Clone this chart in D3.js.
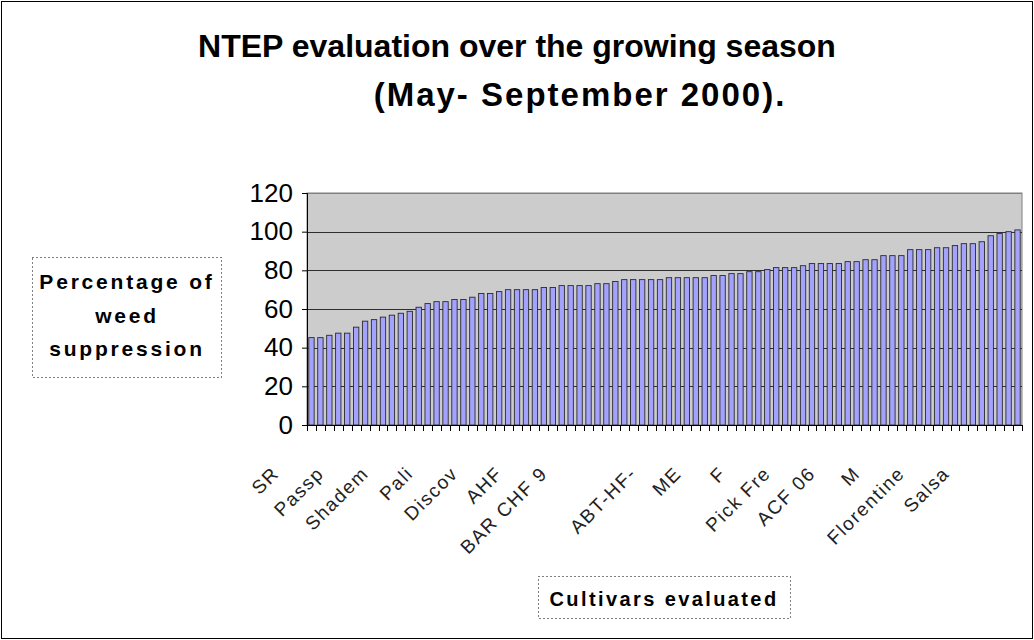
<!DOCTYPE html>
<html>
<head>
<meta charset="utf-8">
<script src="https://cdn.jsdelivr.net/npm/d3@7"></script>
<style>
  html, body { margin: 0; padding: 0; background: #fff; }
  svg { display: block; }
  text { font-family: "Liberation Sans", Arial, sans-serif; }
</style>
</head>
<body>
<svg id="chart" width="1034" height="640"></svg>
<script>
// Weed suppression (%) for each cultivar, sorted ascending
const weedSuppression = [
  45.2, 45.2, 46.4, 47.5, 47.5, 50.6, 53.7, 54.5, 55.8, 56.8,
  57.8, 58.8, 60.9, 62.8, 63.8, 63.8, 64.9, 64.9, 66.1, 68.0,
  68.0, 69.0, 70.0, 70.0, 70.0, 70.0, 71.1, 71.1, 72.1, 72.1,
  72.1, 72.1, 73.1, 73.1, 74.2, 75.2, 75.2, 75.2, 75.2, 75.2,
  76.2, 76.2, 76.2, 76.2, 76.2, 77.3, 77.3, 78.3, 78.3, 79.3,
  79.3, 80.4, 81.4, 81.4, 81.4, 82.4, 83.5, 83.5, 83.5, 83.5,
  84.5, 84.5, 85.5, 85.5, 87.6, 87.6, 87.6, 90.7, 90.7, 90.7,
  91.7, 91.7, 92.8, 93.8, 93.8, 94.8, 97.9, 99.0, 100.0, 100.9
];

// Every fifth cultivar carries a (clipped) name on the category axis
const labelEvery = 5;
const cultivarLabels = [
  "SR", "Passp", "Shadem", "Pali", "Discov", "AHF", "BAR CHF 9", "",
  "ABT-HF-", "ME", "F", "Pick Fre", "ACF 06", "M", "Florentine", "Salsa"
];

const yTicks = [0, 20, 40, 60, 80, 100, 120];

const titleLines = ["NTEP evaluation over the growing season", "(May- September 2000)."];
const yTitleLines = ["Percentage of", "weed", "suppression"];
const xTitle = "Cultivars evaluated";

const svg = d3.select("#chart");
const W = 1034, H = 640;
const plot = { left: 307, right: 1022, top: 193, bottom: 425 };

// outer chart frame
svg.append("rect")
  .attr("x", 1.5).attr("y", 1.5)
  .attr("width", W - 3).attr("height", H - 3)
  .attr("fill", "#fff").attr("stroke", "#000").attr("stroke-width", 1);

// title (two lines)
const titleG = svg.append("g")
  .attr("font-weight", "bold")
  .attr("text-anchor", "middle");
titleG.append("text").attr("x", 517).attr("y", 57)
  .attr("font-size", 32).text(titleLines[0]);
titleG.append("text").attr("x", 580).attr("y", 106)
  .attr("font-size", 33).attr("letter-spacing", 2).text(titleLines[1]);

const idx = d3.range(weedSuppression.length);
const xCat = d3.scaleBand().domain(idx).range([plot.left, plot.right]).padding(0);
const y = d3.scaleLinear().domain([0, 120]).range([plot.bottom, plot.top]);
const barW = xCat.step() * 0.6;

// plot area
svg.append("rect")
  .attr("x", plot.left).attr("y", plot.top)
  .attr("width", plot.right - plot.left).attr("height", plot.bottom - plot.top)
  .attr("fill", "#cccccc").attr("stroke", "#808080").attr("stroke-width", 1);

// horizontal gridlines
svg.append("g").selectAll("line")
  .data(yTicks.filter(t => t > 0))
  .join("line")
  .attr("x1", plot.left).attr("x2", plot.right)
  .attr("y1", d => Math.round(y(d)) + 0.5).attr("y2", d => Math.round(y(d)) + 0.5)
  .attr("stroke", d => d === 120 ? "#808080" : "#2e2e2e").attr("stroke-width", 1);

// bars
svg.append("g").selectAll("rect")
  .data(idx)
  .join("rect")
  .attr("x", i => xCat(i) + (xCat.step() - barW) / 2)
  .attr("y", i => y(weedSuppression[i]))
  .attr("width", barW)
  .attr("height", i => y(0) - y(weedSuppression[i]))
  .attr("fill", "#a3a3ff")
  .attr("stroke", "#2a2a2a")
  .attr("stroke-width", 0.9);

// y axis
const yAxis = d3.axisLeft(y).tickValues(yTicks).tickSize(5).tickPadding(9);
const gy = svg.append("g").attr("transform", `translate(${plot.left},0)`).call(yAxis);
gy.select(".domain").attr("stroke", "#000");
gy.selectAll(".tick line").attr("stroke", "#000");
gy.selectAll(".tick text")
  .attr("font-size", 26)
  .attr("font-family", "Liberation Sans, Arial, sans-serif")
  .attr("fill", "#000");

// x axis: tick marks on category boundaries
const gx = svg.append("g");
gx.append("line")
  .attr("x1", plot.left).attr("x2", plot.right)
  .attr("y1", plot.bottom + 0.5).attr("y2", plot.bottom + 0.5)
  .attr("stroke", "#000");
gx.selectAll("line.tick")
  .data(d3.range(weedSuppression.length + 1))
  .join("line")
  .attr("class", "tick")
  .attr("x1", i => Math.round(plot.left + i * xCat.step()) + 0.5)
  .attr("x2", i => Math.round(plot.left + i * xCat.step()) + 0.5)
  .attr("y1", plot.bottom).attr("y2", plot.bottom + 6)
  .attr("stroke", "#000");

// rotated category labels
gx.selectAll("text")
  .data(cultivarLabels)
  .join("text")
  .attr("transform", (d, k) => {
    const i = k * labelEvery;
    const cx = xCat(i) + xCat.step() / 2;
    return `translate(${cx},${plot.bottom + 10}) rotate(-45)`;
  })
  .attr("dx", -50)
  .attr("dy", 6)
  .attr("text-anchor", "end")
  .attr("font-size", 19)
  .attr("letter-spacing", 1.6)
  .attr("fill", "#222")
  .text(d => d);

// y axis title with dotted frame
svg.append("rect")
  .attr("x", 32.5).attr("y", 257.5).attr("width", 189).attr("height", 120)
  .attr("fill", "none").attr("stroke", "#000").attr("stroke-width", 1)
  .attr("stroke-dasharray", "1,3");
svg.append("g").selectAll("text")
  .data(yTitleLines)
  .join("text")
  .attr("x", 127)
  .attr("y", (d, i) => 289 + i * 33.5)
  .attr("text-anchor", "middle")
  .attr("font-size", 21)
  .attr("font-weight", "bold")
  .attr("letter-spacing", 2.8)
  .text(d => d);

// x axis title with dotted frame
svg.append("rect")
  .attr("x", 538.5).attr("y", 576.5).attr("width", 252).attr("height", 42)
  .attr("fill", "none").attr("stroke", "#000").attr("stroke-width", 1)
  .attr("stroke-dasharray", "1,3");
svg.append("text")
  .attr("x", 664).attr("y", 606)
  .attr("text-anchor", "middle")
  .attr("font-size", 20)
  .attr("font-weight", "bold")
  .attr("letter-spacing", 2.4)
  .text(xTitle);
</script>
</body>
</html>
